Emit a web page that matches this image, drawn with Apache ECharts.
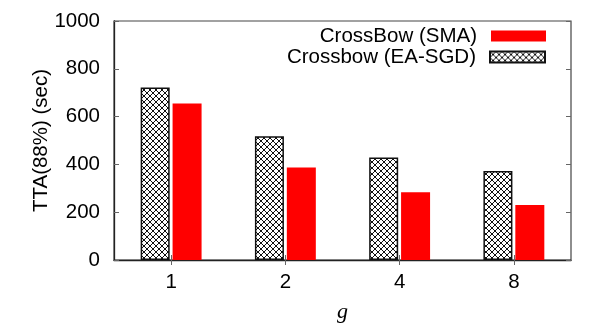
<!DOCTYPE html>
<html><head><meta charset="utf-8">
<script src="https://cdn.jsdelivr.net/npm/echarts@6/dist/echarts.min.js"></script>
<style>html,body{margin:0;padding:0;background:#fff}#c{width:608px;height:327px}</style>
</head><body><div id="c"></div>
<script>
const categories = ['1', '2', '4', '8'];
const easgd = [722, 518, 429, 372];
const sma = [655, 387, 283, 230];
const yTicks = [0, 200, 400, 600, 800, 1000];

function hatch() {
  const c = document.createElement('canvas');
  c.width = 6; c.height = 6;
  const g = c.getContext('2d');
  g.fillStyle = '#fff'; g.fillRect(0, 0, 6, 6);
  g.strokeStyle = '#111'; g.lineWidth = 1;
  g.beginPath();
  g.moveTo(-1, -1); g.lineTo(7, 7);
  g.moveTo(7, -1); g.lineTo(-1, 7);
  g.moveTo(5, -1); g.lineTo(7, 1);
  g.moveTo(-1, 5); g.lineTo(1, 7);
  g.moveTo(1, -1); g.lineTo(-1, 1);
  g.moveTo(7, 5); g.lineTo(5, 7);
  g.stroke();
  return { image: c, repeat: 'repeat' };
}
const font = 'Liberation Sans';
const fs = 20.5;
const chart = echarts.init(document.getElementById('c'), null, { renderer: 'canvas' });
const axisLine = { show: true, lineStyle: { color: '#222', width: 1.3 } };
const tick = { show: true, inside: true, length: 5, lineStyle: { color: '#666', width: 1 } };
chart.setOption({
  animation: false,
  grid: { left: 114, right: 37, top: 21, bottom: 67, show: true, borderColor: '#444', borderWidth: 1.2,
          containLabel: false, outerBoundsMode: 'none' },
  legend: [
    { data: ['CrossBow (SMA)'], right: 57, top: 20.5, align: 'right', itemWidth: 55, itemHeight: 11, icon: 'rect',
      textStyle: { fontFamily: font, fontSize: fs, color: '#000', padding: [0, 9, 0, 0] } },
    { data: ['Crossbow (EA-SGD)'], right: 57, top: 41.5, align: 'right', itemWidth: 55, itemHeight: 11, icon: 'rect',
      textStyle: { fontFamily: font, fontSize: fs, color: '#000', padding: [0, 9, 0, 0] } }
  ],
  xAxis: [
    { type: 'category', data: categories, axisLine: axisLine, axisTick: Object.assign({ alignWithLabel: true }, tick),
      axisLabel: { fontFamily: font, fontSize: fs, color: '#000', margin: 12 },
      name: 'g', nameLocation: 'middle', nameGap: 41, nameMoveOverlap: false,
      nameTextStyle: { fontFamily: 'Liberation Serif', fontStyle: 'italic', fontSize: 22, color: '#000' } },
    { type: 'category', data: categories, position: 'top', axisLine: { show: false },
      axisTick: Object.assign({ alignWithLabel: true }, tick), axisLabel: { show: false } }
  ],
  yAxis: [
    { type: 'value', min: 0, max: 1000, interval: 200, axisLine: axisLine, axisTick: tick, splitLine: { show: false },
      axisLabel: { fontFamily: font, fontSize: fs, color: '#000', margin: 14, formatter: v => String(v) },
      name: 'TTA(88%) (sec)', nameLocation: 'middle', nameGap: 62, nameRotate: 90, nameMoveOverlap: false,
      nameTextStyle: { fontFamily: font, fontSize: fs, color: '#000' } },
    { type: 'value', min: 0, max: 1000, interval: 200, position: 'right', axisLine: { show: false },
      axisTick: tick, axisLabel: { show: false }, splitLine: { show: false } }
  ],
  series: [
    { name: 'Crossbow (EA-SGD)', type: 'bar', data: easgd, barWidth: 29, barGap: '10%',
      itemStyle: { color: hatch(), borderColor: '#111', borderWidth: 1.5 } },
    { name: 'CrossBow (SMA)', type: 'bar', data: sma, barWidth: 29, barGap: '10%',
      itemStyle: { color: '#ff0000' } }
  ]
});
</script></body></html>
